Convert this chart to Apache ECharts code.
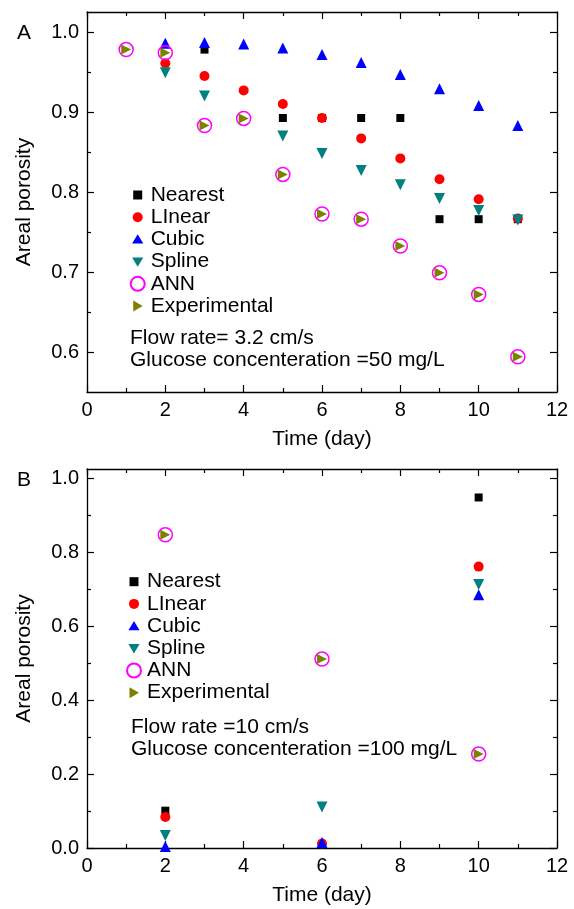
<!DOCTYPE html>
<html><head><meta charset="utf-8">
<script src="https://cdn.jsdelivr.net/npm/echarts@6/dist/echarts.min.js"></script>
<style>html,body{margin:0;padding:0;background:#fff}#c{width:574px;height:909px}</style>
</head><body><div id="c"></div>
<script>
// ---------- DATA ----------
const seriesNames = ['Nearest', 'LInear', 'Cubic', 'Spline', 'ANN', 'Experimental'];

// Panel A (flow rate 3.2 cm/s, 50 mg/L)
const nearestA = [[3,0.978],[5,0.8925],[6,0.8925],[7,0.8925],[8,0.8925],[9,0.766],[10,0.766],[11,0.766]];
const linearA  = [[2,0.961],[3,0.945],[4,0.927],[5,0.910],[6,0.8925],[7,0.867],[8,0.842],[9,0.816],[10,0.791],[11,0.767]];
const cubicA   = [[2,0.986],[3,0.987],[4,0.985],[5,0.980],[6,0.972],[7,0.962],[8,0.947],[9,0.929],[10,0.908],[11,0.883]];
const splineA  = [[2,0.949],[3,0.920],[5,0.870],[6,0.848],[7,0.827],[8,0.809],[9,0.792],[10,0.777],[11,0.765]];
const annA     = [[1,0.978],[2,0.974],[3,0.883],[4,0.892],[5,0.822],[6,0.7725],[7,0.766],[8,0.7325],[9,0.699],[10,0.672],[11,0.594]];
const expA     = [[1,0.978],[2,0.974],[3,0.883],[4,0.892],[5,0.822],[6,0.7725],[7,0.766],[8,0.7325],[9,0.699],[10,0.672],[11,0.594]];

// Panel B (flow rate 10 cm/s, 100 mg/L)
const nearestB = [[2,0.101],[10,0.948]];
const linearB  = [[2,0.084],[6,0.012],[10,0.761]];
const cubicB   = [[2,0.004],[6,0.015],[10,0.685]];
const splineB  = [[2,0.034],[6,0.111],[10,0.7125]];
const annB     = [[2,0.847],[6,0.511],[10,0.254]];
const expB     = [[2,0.847],[6,0.511],[10,0.254]];

// Ticks
const xTicks  = [0,2,4,6,8,10,12];
const xMinor  = [1,3,5,7,9,11];
const yTicksA = [0.6,0.7,0.8,0.9,1.0];
const yMinorA = [0.65,0.75,0.85,0.95];
const yTicksB = [0,0.2,0.4,0.6,0.8,1.0];
const yMinorB = [0.1,0.3,0.5,0.7,0.9];

const panelLabels = ['A', 'B'];
const notesA = ['Flow rate= 3.2 cm/s', 'Glucose concenteration =50 mg/L'];
const notesB = ['Flow rate =10 cm/s', 'Glucose concenteration =100 mg/L'];
const xTitle = 'Time (day)';
const yTitle = 'Areal porosity';

// ---------- STYLE ----------
const FONT = '"Liberation Sans", Arial, Helvetica, sans-serif';
const styles = {
  'Nearest':      {symbol:'rect', symbolSize:8, symbolRotate:0, itemStyle:{color:'#000000', opacity:1}},
  'LInear':       {symbol:'circle', symbolSize:10, symbolRotate:0, itemStyle:{color:'#ff0000', opacity:1}},
  'Cubic':        {symbol:'triangle', symbolSize:11, symbolRotate:0, itemStyle:{color:'#0000ff', opacity:1}},
  'Spline':       {symbol:'triangle', symbolSize:11, symbolRotate:180, itemStyle:{color:'#008080', opacity:1}},
  'ANN':          {symbol:'circle', symbolSize:14, symbolRotate:0, itemStyle:{color:'rgba(0,0,0,0)', borderColor:'#ff00ff', borderWidth:1.5, opacity:1}},
  'Experimental': {symbol:'triangle', symbolSize:10, symbolRotate:-90, itemStyle:{color:'#808000', opacity:1}}
};
// legend icons in a 14x14 box (the bare moveTo points pin the box size)
const BOX = 'path://M0,0 M14,14 ';
const legendIcons = {
  'Nearest':      BOX + 'M2.5,2.5 L11.5,2.5 L11.5,11.5 L2.5,11.5 Z',
  'LInear':       BOX + 'M2,7 A5,5 0 1,0 12,7 A5,5 0 1,0 2,7 Z',
  'Cubic':        BOX + 'M7,1.8 L12.6,11.2 L1.4,11.2 Z',
  'Spline':       BOX + 'M1.4,2.8 L12.6,2.8 L7,12.2 Z',
  'ANN':          'circle',
  'Experimental': BOX + 'M2.5,1.5 L12,7 L2.5,12.5 Z'
};

const LINE = {color:'#000', width:1.3};
const TICK = {color:'#000', width:1.2};
const TICKFONT = 20;
const TEXTFONT = 21;

function xAxes(grid) {
  const base = {type:'value', gridIndex:grid, min:0, max:12, splitLine:{show:false}};
  return [
    Object.assign({}, base, {position:'bottom',
      axisLine:{show:true, onZero:false, lineStyle:LINE},
      axisTick:{show:true, inside:true, length:7, customValues:xTicks, lineStyle:TICK},
      axisLabel:{show:true, customValues:xTicks, margin:8, color:'#000', fontSize:TICKFONT, fontFamily:FONT},
      name:xTitle, nameLocation:'middle', nameGap:37,
      nameTextStyle:{color:'#000', fontSize:TEXTFONT, fontFamily:FONT}}),
    Object.assign({}, base, {position:'bottom',
      axisLine:{show:false, onZero:false},
      axisTick:{show:true, inside:true, length:4, customValues:xMinor, lineStyle:TICK},
      axisLabel:{show:false}}),
    Object.assign({}, base, {position:'top',
      axisLine:{show:true, onZero:false, lineStyle:LINE},
      axisTick:{show:true, inside:true, length:7, customValues:xTicks, lineStyle:TICK},
      axisLabel:{show:false}}),
    Object.assign({}, base, {position:'top',
      axisLine:{show:false, onZero:false},
      axisTick:{show:true, inside:true, length:4, customValues:xMinor, lineStyle:TICK},
      axisLabel:{show:false}})
  ];
}

function yAxes(grid, min, max, majors, minors) {
  const base = {type:'value', gridIndex:grid, min:min, max:max, splitLine:{show:false}};
  return [
    Object.assign({}, base, {position:'left',
      axisLine:{show:true, onZero:false, lineStyle:LINE},
      axisTick:{show:true, inside:true, length:7, customValues:majors, lineStyle:TICK},
      axisLabel:{show:true, customValues:majors, margin:8, color:'#000', fontSize:TICKFONT, fontFamily:FONT,
        formatter:v => Number(v).toFixed(1)},
      name:yTitle, nameLocation:'middle', nameGap:52,
      nameTextStyle:{color:'#000', fontSize:TEXTFONT, fontFamily:FONT}}),
    Object.assign({}, base, {position:'left',
      axisLine:{show:false, onZero:false},
      axisTick:{show:true, inside:true, length:4, customValues:minors, lineStyle:TICK},
      axisLabel:{show:false}}),
    Object.assign({}, base, {position:'right',
      axisLine:{show:true, onZero:false, lineStyle:LINE},
      axisTick:{show:true, inside:true, length:7, customValues:majors, lineStyle:TICK},
      axisLabel:{show:false}}),
    Object.assign({}, base, {position:'right',
      axisLine:{show:false, onZero:false},
      axisTick:{show:true, inside:true, length:4, customValues:minors, lineStyle:TICK},
      axisLabel:{show:false}})
  ];
}

const dataA = [nearestA, linearA, cubicA, splineA, annA, expA];
const dataB = [nearestB, linearB, cubicB, splineB, annB, expB];

const series = [];
[dataA, dataB].forEach((set, p) => {
  set.forEach((d, i) => {
    const name = seriesNames[i];
    const s = styles[name];
    series.push({
      type:'scatter', name:name, data:d,
      xAxisIndex:p*4, yAxisIndex:p*4,
      symbol:s.symbol, symbolSize:s.symbolSize, symbolRotate:s.symbolRotate,
      itemStyle:s.itemStyle, emphasis:{disabled:true}, animation:false, z:2+i
    });
  });
});

function legend(left, top) {
  return {
    show:true, orient:'vertical', left:left, top:top,
    itemWidth:14, itemHeight:14, itemGap:1.2, padding:0, symbolRotate:0,
    textStyle:{color:'#000', fontSize:TEXTFONT, fontFamily:FONT, lineHeight:21, padding:[0,0,0,1]},
    data:seriesNames.map(n => ({name:n, icon:legendIcons[n], symbolRotate:0})),
    selectedMode:false
  };
}

function note(txt, x, y) {
  return {type:'text', x:x, y:y, silent:true,
    style:{text:txt, fill:'#000', font:TEXTFONT + 'px ' + FONT, verticalAlign:'middle', align:'left'}};
}

const option = {
  backgroundColor:'#fff',
  animation:false,
  grid:[
    {left:87, top:12, width:470, height:380},
    {left:87, top:469, width:470, height:379}
  ],
  xAxis:[...xAxes(0), ...xAxes(1)],
  yAxis:[...yAxes(0, 0.55, 1.025, yTicksA, yMinorA), ...yAxes(1, 0, 1.025, yTicksB, yMinorB)],
  legend:[legend(129.7, 184.5), legend(126, 571.2)],
  series:series,
  graphic:[
    note(panelLabels[0], 17, 33),
    note(panelLabels[1], 17, 480),
    note(notesA[0], 130, 338),
    note(notesA[1], 130, 360),
    note(notesB[0], 131, 727),
    note(notesB[1], 131, 749)
  ]
};

const chart = echarts.init(document.getElementById('c'), null, {renderer:'canvas'});
chart.setOption(option);
</script>
</body></html>
